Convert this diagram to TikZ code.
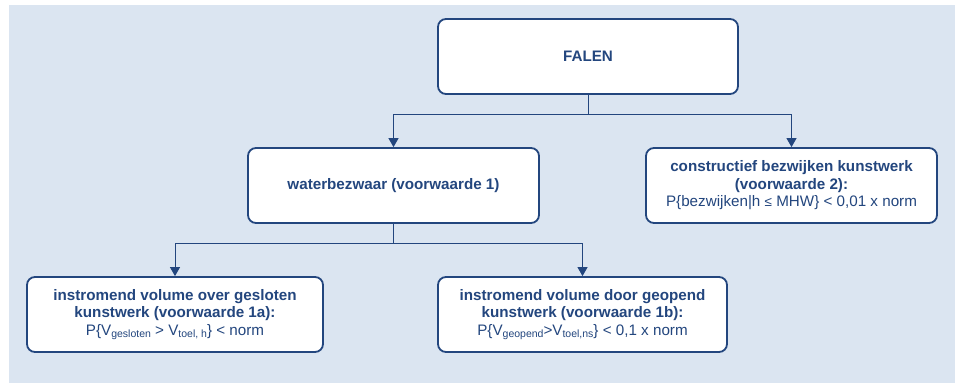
\documentclass[tikz,border=0pt]{standalone}
\usepackage{fontspec}
\setmainfont{Liberation Sans}
\usetikzlibrary{arrows.meta}
\definecolor{dkblue}{HTML}{23467E}
\definecolor{bgblue}{HTML}{DBE5F1}
\newcommand{\sbs}[1]{\raisebox{-2.5pt}{\fontsize{10.5}{10.5}\selectfont #1}}
\tikzset{
  box/.style={draw=dkblue, line width=1.8pt, fill=white, rounded corners=8pt,
    align=center, text=dkblue, inner sep=0pt,
    font=\fontsize{15.2}{17.5}\selectfont},
  conn/.style={draw=dkblue, line width=1pt},
  arr/.style={conn, -{Triangle[width=10pt,length=9pt]}}
}
\begin{document}
\begin{tikzpicture}[x=1pt,y=-1pt]
\useasboundingbox (0,0) rectangle (957,385);
\fill[bgblue] (9,5) rectangle (955,383);
\node[box, minimum width=300pt, minimum height=75pt] (falen) at (588,56.5) {\textbf{FALEN}};
\node[box, minimum width=291pt, minimum height=75pt] (water) at (393.5,185.5) {\textbf{waterbezwaar (voorwaarde 1)}};
\node[box, minimum width=291pt, minimum height=75pt] (constr) at (791.5,185.5) {\textbf{constructief bezwijken kunstwerk}\\\textbf{(voorwaarde 2):}\\P\{bezwijken|h {\fontsize{13.5}{13.5}\selectfont ≤} MHW\} < 0,01 x norm};
\node[box, minimum width=296pt, minimum height=75pt] (ca) at (175,314.5) {\textbf{instromend volume over gesloten}\\\textbf{kunstwerk (voorwaarde 1a):}\\P\{V\sbs{gesloten} > V\sbs{toel, h}\} < norm};
\node[box, minimum width=289pt, minimum height=75pt] (cb) at (582.5,314.5) {\textbf{instromend volume door geopend}\\\textbf{kunstwerk (voorwaarde 1b):}\\P\{V\sbs{geopend}>V\sbs{toel,ns}\} < 0,1 x norm};
\coordinate (jA) at (588,114);
\coordinate (jB) at (393.5,243);
\draw[conn] (falen.south) -- (jA);
\draw[arr] (jA) -| (water.north);
\draw[arr] (jA) -| (constr.north);
\draw[conn] (water.south) -- (jB);
\draw[arr] (jB) -| (ca.north);
\draw[arr] (jB) -| (cb.north);
\end{tikzpicture}
\end{document}
